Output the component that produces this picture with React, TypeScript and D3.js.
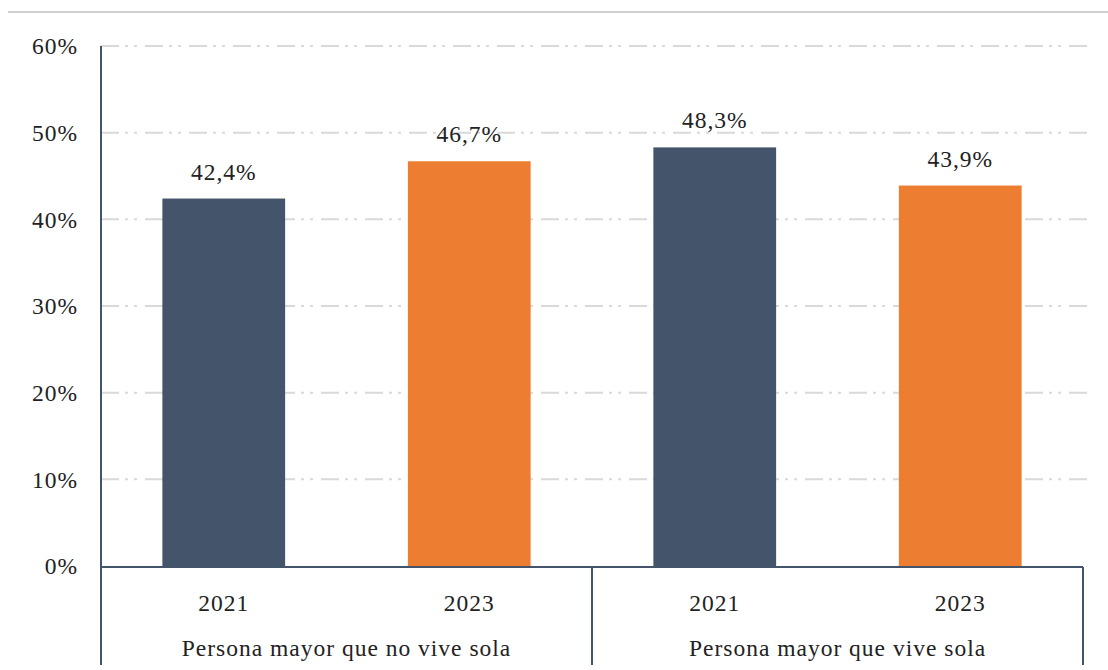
import React from "react";
import * as d3 from "d3";

const groups = ["Persona mayor que no vive sola", "Persona mayor que vive sola"];
const years = ["2021", "2023"];
const values = [
  [42.4, 46.7],
  [48.3, 43.9],
];
const yTicks = [0, 10, 20, 30, 40, 50, 60];
const colors = ["#44546a", "#ed7d31"];

export default function App() {
  const W = 1108, H = 670;
  const left = 101, right = 1083, top = 46, bottom = 566;
  const y = d3.scaleLinear().domain([0, 60]).range([bottom, top]);
  const flat = groups.flatMap((g, gi) => years.map((yr, yi) => ({ g, gi, yr, yi, v: values[gi][yi], key: `${gi}-${yi}` })));
  const x = d3.scaleBand().domain(flat.map((d) => d.key)).range([left, right]).paddingInner(0.5).paddingOuter(0.25);
  const xg = d3.scaleBand().domain(groups).range([left, right]);
  const ts: React.CSSProperties = { fontFamily: '"Liberation Serif", "Times New Roman", serif', fontSize: 23.5, letterSpacing: 1 };
  const fmt = (v: number) => v.toFixed(1).replace(".", ",") + "%";
  return (
    <svg width={W} height={H} style={{ position: "absolute", left: 0, top: 0, background: "#fff" }}>
      <line x1={8} x2={W} y1={12} y2={12} stroke="#c0c0c0" strokeWidth={1.5} />
      {yTicks.map((t) => (
        <g key={t}>
          {t > 0 && (
            <line x1={left} x2={1090} y1={y(t)} y2={y(t)} stroke="#d9d9d9" strokeWidth={2} strokeDasharray="18,6,3,6,3,8" />
          )}
          <text x={78} y={y(t)} dy="0.35em" textAnchor="end" style={ts} fill="#222">{t}%</text>
        </g>
      ))}
      {flat.map((d) => (
        <g key={d.key}>
          <rect x={x(d.key)} y={y(d.v)} width={x.bandwidth()} height={bottom - y(d.v)} fill={colors[d.yi]} />
          <text x={x(d.key)! + x.bandwidth() / 2} y={y(d.v) - 19} textAnchor="middle" style={ts} fill="#222">{fmt(d.v)}</text>
          <text x={x(d.key)! + x.bandwidth() / 2} y={611} textAnchor="middle" style={ts} fill="#222">{d.yr}</text>
        </g>
      ))}
      <line x1={left} x2={left} y1={top} y2={665} stroke="#44546a" strokeWidth={2} />
      <line x1={left} x2={right} y1={567} y2={567} stroke="#44546a" strokeWidth={2} />
      {groups.map((g) => (
        <g key={g}>
          <line x1={xg(g)! + xg.bandwidth()} x2={xg(g)! + xg.bandwidth()} y1={567} y2={665} stroke="#44546a" strokeWidth={2} />
          <text x={xg(g)! + xg.bandwidth() / 2} y={656} textAnchor="middle" style={ts} fill="#222">{g}</text>
        </g>
      ))}
    </svg>
  );
}
